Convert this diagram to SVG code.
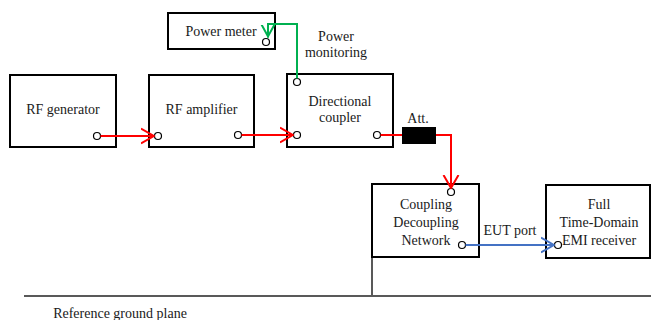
<svg xmlns="http://www.w3.org/2000/svg" width="651" height="320" viewBox="0 0 651 320" font-family="'Liberation Serif', 'Times New Roman', 'DejaVu Serif', serif">
<style>
.box{fill:#fff;stroke:#000;stroke-width:2}
.port{fill:#fff;stroke:#000;stroke-width:1.2}
text{font-family:'Liberation Serif','Times New Roman','DejaVu Serif',serif;font-size:14px;fill:#1a1a1a;text-anchor:middle}
.red{fill:none;stroke:#ff0000;stroke-width:2}
.green{fill:none;stroke:#00b050;stroke-width:2}
.blue{fill:none;stroke:#4472c4;stroke-width:2}
.gnd{fill:none;stroke:#595959;stroke-width:2}
</style>
<defs>
<marker id="ar" viewBox="0 0 14 18" refX="13" refY="9" markerWidth="14" markerHeight="18" markerUnits="userSpaceOnUse" orient="auto">
<path d="M0,1.5 L13,9 L0,16.5" fill="none" stroke="#ff0000" stroke-width="2"/>
</marker>
<marker id="ag" viewBox="0 0 14 18" refX="13" refY="9" markerWidth="14" markerHeight="18" markerUnits="userSpaceOnUse" orient="auto">
<path d="M0,2.5 L12,9 L0,15.5" fill="none" stroke="#00b050" stroke-width="2"/>
</marker>
<marker id="ab" viewBox="0 0 14 18" refX="13" refY="9" markerWidth="14" markerHeight="18" markerUnits="userSpaceOnUse" orient="auto">
<path d="M0,1.5 L13,9 L0,16.5" fill="none" stroke="#4472c4" stroke-width="2"/>
</marker>
</defs>

<g id="ground">
<line class="gnd" x1="24" y1="296" x2="651" y2="296"/>
<line class="gnd" x1="372" y1="257" x2="372" y2="296"/>
<text x="120" y="318">Reference ground plane</text>
</g>

<g id="power-meter">
<rect class="box" x="168" y="13" width="107" height="36"/>
<text x="221" y="36">Power meter</text>
<circle class="port" cx="266" cy="42" r="3.5"/>
</g>

<g id="rf-generator">
<rect class="box" x="10" y="75" width="106" height="72"/>
<text x="63" y="114">RF generator</text>
<circle class="port" cx="97" cy="136" r="3.5"/>
</g>

<g id="rf-amplifier">
<rect class="box" x="149" y="75" width="105" height="72"/>
<text x="201.5" y="114">RF amplifier</text>
<circle class="port" cx="158" cy="136" r="3.5"/>
<circle class="port" cx="238" cy="135" r="3.5"/>
</g>

<g id="directional-coupler">
<rect class="box" x="287" y="74" width="106" height="73"/>
<text x="340" y="106">Directional</text>
<text x="340" y="122">coupler</text>
<circle class="port" cx="297" cy="82" r="3.5"/>
<circle class="port" cx="297" cy="135" r="3.5"/>
<circle class="port" cx="377" cy="135" r="3.5"/>
</g>

<g id="cdn">
<rect class="box" x="372" y="184" width="107" height="73"/>
<text x="426" y="209">Coupling</text>
<text x="426" y="227">Decoupling</text>
<text x="426" y="245">Network</text>
<circle class="port" cx="451" cy="192" r="3.5"/>
<circle class="port" cx="462" cy="245" r="3.5"/>
</g>

<g id="emi-receiver">
<rect class="box" x="546" y="185" width="104" height="73"/>
<text x="599" y="209">Full</text>
<text x="599" y="227">Time-Domain</text>
<text x="599" y="245">EMI receiver</text>
<circle class="port" cx="558" cy="245" r="3.5"/>
</g>

<g id="connectors">
<line class="red" x1="100.5" y1="136" x2="154" y2="136" marker-end="url(#ar)"/>
<line class="red" x1="241.5" y1="135" x2="293" y2="135" marker-end="url(#ar)"/>
<polyline class="red" points="380.5,135 451,135 451,188" marker-end="url(#ar)"/>
<polyline class="green" points="297,78.5 297,24 268,24 268,37.5" marker-end="url(#ag)"/>
<line class="blue" x1="465.5" y1="245" x2="554" y2="245" marker-end="url(#ab)"/>
</g>

<g id="attenuator">
<rect x="402" y="127" width="34" height="17" fill="#000"/>
<text x="418" y="123">Att.</text>
</g>
<g id="labels">
<text x="336" y="41">Power</text>
<text x="336" y="57">monitoring</text>
<text x="510" y="235">EUT port</text>
</g>
</svg>
